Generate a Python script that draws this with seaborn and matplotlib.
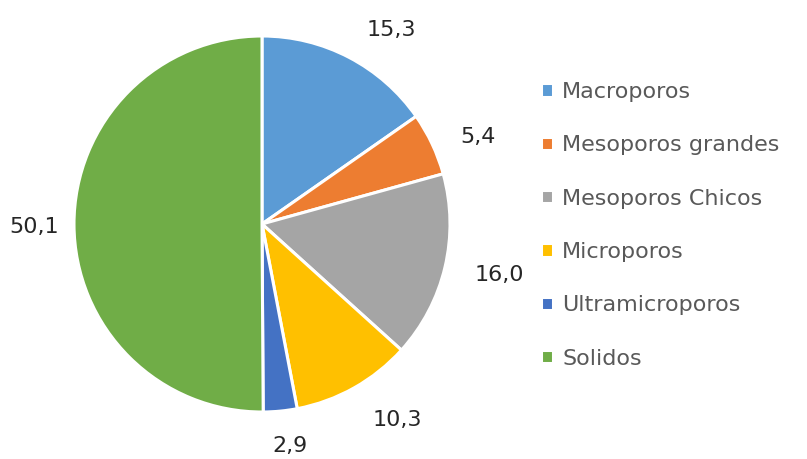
import matplotlib
matplotlib.use("Agg")
import matplotlib.pyplot as plt
import seaborn as sns
import numpy as np

categories = ["Macroporos", "Mesoporos grandes", "Mesoporos Chicos",
              "Microporos", "Ultramicroporos", "Solidos"]
values = [15.3, 5.4, 16.0, 10.3, 2.9, 50.1]
colors = ["#5B9BD5", "#ED7D31", "#A5A5A5", "#FFC000", "#4472C4", "#70AD47"]

sns.set_theme(style="white")
plt.rcParams["font.family"] = ["DejaVu Sans"]

W, H = 807, 459
fig = plt.figure(figsize=(W / 100, H / 100), dpi=100)

# pie centre and radius in pixels
cx, cy, r = 262, 224, 188
ax = fig.add_axes([(cx - r) / W, (H - cy - r) / H, 2 * r / W, 2 * r / H])

value_labels = [f"{v:.1f}".replace(".", ",") for v in values]
wedges, _ = ax.pie(
    values, colors=colors, startangle=90, counterclock=False,
    wedgeprops=dict(edgecolor="white", linewidth=2.2),
)

# value labels sit just outside the rim, anchored on the side facing the pie
anchor_r = 1.12
for w, lab in zip(wedges, value_labels):
    ang = np.deg2rad((w.theta1 + w.theta2) / 2)
    c, s = np.cos(ang), np.sin(ang)
    ha = "left" if c > 0.3 else ("right" if c < -0.3 else "center")
    va = "bottom" if s > 0.5 else ("top" if s < -0.5 else "center")
    ax.annotate(lab, (anchor_r * c, anchor_r * s), xytext=(5.5, -2),
                textcoords="offset points", ha=ha, va=va,
                fontsize=16, color="#262626", annotation_clip=False)
ax.set_xlim(-1, 1)
ax.set_ylim(-1, 1)
ax.set_aspect("equal")
ax.axis("off")

fig.legend(
    wedges, categories, loc="upper left",
    bbox_to_anchor=(532 / W, 1 - 73 / H), frameon=False,
    fontsize=16, labelcolor="#595959",
    handlelength=0.55, handleheight=0.55, handletextpad=0.4,
    labelspacing=1.5, borderaxespad=0,
)

fig.savefig("out.png", dpi=100)
